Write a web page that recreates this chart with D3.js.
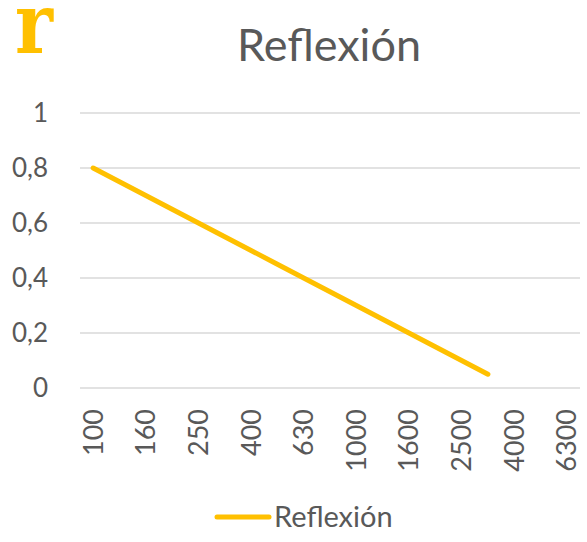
<!DOCTYPE html>
<html>
<head>
<meta charset="utf-8">
<script src="https://cdn.jsdelivr.net/npm/d3@7"></script>
<style>
  body { margin: 0; background: #fff; }
  svg { display: block; }
</style>
</head>
<body>
<div id="chart"></div>
<script>
// third-octave bands, labels shown on every other one
var bands = ['100','125','160','200','250','315','400','500','630','800','1000','1250','1600','2000','2500','3150','4000','5000','6300'];
var reflexion = [0.8, 0.75, 0.7, 0.65, 0.6, 0.55, 0.5, 0.45, 0.4, 0.35, 0.3, 0.25, 0.2, 0.15, 0.1, 0.05];
var yTicks = [0, 0.2, 0.4, 0.6, 0.8, 1];
var seriesName = 'Reflexión';

var width = 587, height = 542;
var margin = {left: 80, right: 7, top: 113, bottom: 154};
var font = 'Lato, "Open Sans", sans-serif';

var svg = d3.select('#chart').append('svg')
    .attr('width', width)
    .attr('height', height);

var x = d3.scaleBand()
    .domain(bands)
    .range([margin.left, width - margin.right]);

var y = d3.scaleLinear()
    .domain([0, 1])
    .range([height - margin.bottom, margin.top]);

var fmt = function(d) { return String(d).replace('.', ','); };

// gridlines
svg.append('g').selectAll('line')
    .data(yTicks)
    .enter().append('line')
    .attr('x1', margin.left)
    .attr('x2', width - margin.right)
    .attr('y1', function(d) { return y(d); })
    .attr('y2', function(d) { return y(d); })
    .attr('stroke', '#d9d9d9')
    .attr('stroke-width', 1.3);

// y labels
svg.append('g').selectAll('text')
    .data(yTicks)
    .enter().append('text')
    .attr('x', 48)
    .attr('y', function(d) { return y(d); })
    .attr('dy', '0.35em')
    .attr('text-anchor', 'end')
    .style('font-family', font)
    .style('font-size', '26px')
    .attr('fill', '#595959')
    .text(fmt);

// x labels (rotated)
svg.append('g').selectAll('text')
    .data(bands.filter(function(d, i) { return i % 2 === 0; }))
    .enter().append('text')
    .attr('transform', function(d) {
      return 'translate(' + (x(d) + x.bandwidth() / 2) + ',' + (y(0) + 21) + ') rotate(-90)';
    })
    .attr('dy', '0.35em')
    .attr('text-anchor', 'end')
    .style('font-family', font)
    .style('font-size', '27px')
    .attr('fill', '#595959')
    .text(function(d) { return d; });

// the line
var line = d3.line()
    .x(function(d, i) { return x(bands[i]) + x.bandwidth() / 2; })
    .y(function(d) { return y(d); });

svg.append('path')
    .datum(reflexion)
    .attr('d', line)
    .attr('fill', 'none')
    .attr('stroke', '#ffc000')
    .attr('stroke-width', 5)
    .attr('stroke-linecap', 'round')
    .attr('stroke-linejoin', 'round');

// title
svg.append('text')
    .attr('x', 329)
    .attr('y', 61)
    .attr('text-anchor', 'middle')
    .style('font-family', font)
    .style('font-size', '45px')
    .attr('fill', '#595959')
    .text(seriesName);

// big "r" in the corner (slab serif, stretched a bit taller)
svg.append('text')
    .attr('transform', 'translate(15,53) scale(1,1.17)')
    .style('font-family', '"DejaVu Serif", "Liberation Serif", serif')
    .style('font-weight', 'bold')
    .style('font-size', '72px')
    .attr('fill', '#ffc000')
    .text('r');

// legend
svg.append('line')
    .attr('x1', 217).attr('x2', 269)
    .attr('y1', 517).attr('y2', 517)
    .attr('stroke', '#ffc000')
    .attr('stroke-width', 5)
    .attr('stroke-linecap', 'round');

svg.append('text')
    .attr('x', 274)
    .attr('y', 517)
    .attr('dy', '0.35em')
    .style('font-family', font)
    .style('font-size', '29px')
    .attr('fill', '#595959')
    .text(seriesName);
</script>
</body>
</html>
